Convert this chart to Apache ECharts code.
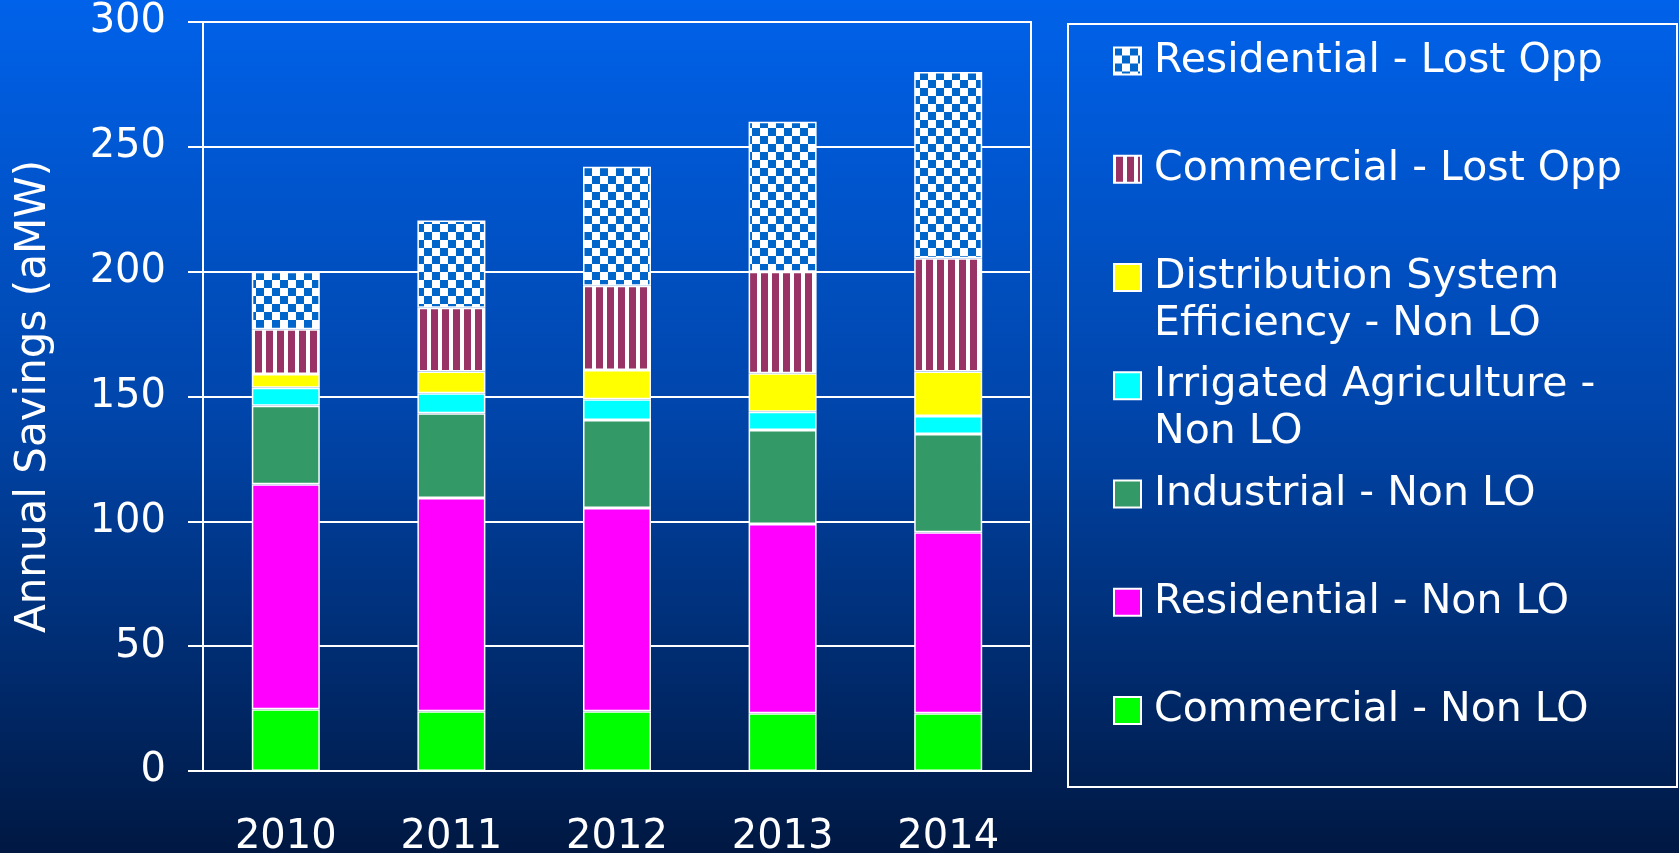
<!doctype html>
<html lang="en">
<head>
<meta charset="UTF-8">
<title>Annual Savings (aMW)</title>
<script src="https://cdn.jsdelivr.net/npm/echarts@6/dist/echarts.min.js"></script>
<style>
  html, body { margin: 0; padding: 0; }
  #main { width: 1679px; height: 853px; }
</style>
</head>
<body>
<div id="main"></div>
<script>
// data (aMW per segment)
var years = ['2010', '2011', '2012', '2013', '2014'];
var commercialNonLO   = [24.7, 23.9, 23.9, 23.1, 23.1];
var residentialNonLO  = [90.2, 85.4, 81.4, 75.8, 72.5];
var industrialNonLO   = [31.4, 34.0, 35.3, 37.7, 39.4];
var irrigatedNonLO    = [7.2, 8.0, 8.3, 7.3, 7.2];
var distributionNonLO = [5.5, 8.7, 11.7, 15.4, 17.8];
var commercialLostOpp = [17.9, 25.5, 33.8, 40.7, 45.4];
var residentialLostOpp = [23.1, 35.0, 47.6, 60.0, 74.6];
var yMin = 0, yMax = 300, yStep = 50;

var FONT = 'DejaVu Sans';

// fill patterns for the "lost opp" segments
function checkerPattern() {
    var c = document.createElement('canvas');
    c.width = 16; c.height = 16;
    var g = c.getContext('2d');
    g.fillStyle = '#ffffff'; g.fillRect(0, 0, 16, 16);
    g.fillStyle = '#0066cc'; g.fillRect(0, 0, 8, 8); g.fillRect(8, 8, 8, 8);
    return { image: c, repeat: 'repeat' };
}
function stripePattern() {
    var c = document.createElement('canvas');
    c.width = 11; c.height = 4;
    var g = c.getContext('2d');
    g.fillStyle = '#ffffff'; g.fillRect(0, 0, 11, 4);
    g.fillStyle = '#993366'; g.fillRect(2, 0, 7, 4);
    return { image: c, repeat: 'repeat' };
}

// bottom to top
var seriesDefs = [
    ['Commercial - Non LO', commercialNonLO, '#00ff00'],
    ['Residential - Non LO', residentialNonLO, '#ff00ff'],
    ['Industrial - Non LO', industrialNonLO, '#339966'],
    ['Irrigated Agriculture - Non LO', irrigatedNonLO, '#00ffff'],
    ['Distribution System Efficiency - Non LO', distributionNonLO, '#ffff00'],
    ['Commercial - Lost Opp', commercialLostOpp, stripePattern()],
    ['Residential - Lost Opp', residentialLostOpp, checkerPattern()]
];

// wrapped legend labels; the leading blank line keeps the first line level with the icon
var legendLabels = {
    'Distribution System Efficiency - Non LO': '{s| }\nDistribution System\nEfficiency - Non LO',
    'Irrigated Agriculture - Non LO': '{s| }\nIrrigated Agriculture -\nNon LO'
};

var series = seriesDefs.map(function (d) {
    return {
        name: d[0],
        type: 'bar',
        stack: 'total',
        barWidth: 68,
        data: d[1],
        itemStyle: { color: d[2], borderColor: '#ffffff', borderWidth: 1.5 }
    };
});

var LH = 47;
var legends = seriesDefs.slice().reverse().map(function (d, i) {
    var c = 61 + i * 108.25;
    var multi = !!legendLabels[d[0]];
    return {
        data: [d[0]],
        left: 1113,
        top: multi ? c - LH * 1.5 : c - LH / 2,
        padding: 0,
        itemWidth: 27,
        itemHeight: 27,
        icon: 'rect',
        selectedMode: false,
        formatter: function (n) { return legendLabels[n] || n; },
        textStyle: {
            color: '#ffffff', fontFamily: FONT, fontSize: 41, lineHeight: LH,
            padding: [0, 0, 0, 8],
            rich: { s: { fontSize: 41, lineHeight: LH } }
        }
    };
});

var chart = echarts.init(document.getElementById('main'));
chart.setOption({
    animation: false,
    backgroundColor: new echarts.graphic.LinearGradient(0, 0, 0, 1, [
        { offset: 0, color: '#0062ea' },
        { offset: 0.5, color: '#0044a8' },
        { offset: 1, color: '#001842' }
    ]),
    grid: {
        left: 203, right: 648, top: 22, bottom: 82,
        outerBoundsMode: 'none',
        show: true, borderColor: '#ffffff', borderWidth: 2
    },
    legend: legends,
    graphic: [{
        type: 'rect',
        shape: { x: 1068, y: 24, width: 609, height: 763 },
        style: { fill: 'none', stroke: '#ffffff', lineWidth: 2 }
    }],
    xAxis: {
        type: 'category',
        data: years,
        axisLine: { lineStyle: { color: '#ffffff', width: 2 } },
        axisTick: { length: 15, lineStyle: { color: '#ffffff', width: 2 } },
        axisLabel: { color: '#ffffff', fontFamily: FONT, fontSize: 40, margin: 47 }
    },
    yAxis: {
        type: 'value',
        min: yMin, max: yMax, interval: yStep,
        name: 'Annual Savings (aMW)',
        nameLocation: 'middle',
        nameGap: 148,
        nameTextStyle: { color: '#ffffff', fontFamily: FONT, fontSize: 42 },
        axisLine: { show: true, lineStyle: { color: '#ffffff', width: 2 } },
        axisTick: { show: true, length: 15, lineStyle: { color: '#ffffff', width: 2 } },
        splitLine: { lineStyle: { color: '#ffffff', width: 2 } },
        axisLabel: { color: '#ffffff', fontFamily: FONT, fontSize: 40, margin: 37 }
    },
    series: series
});
</script>
</body>
</html>
